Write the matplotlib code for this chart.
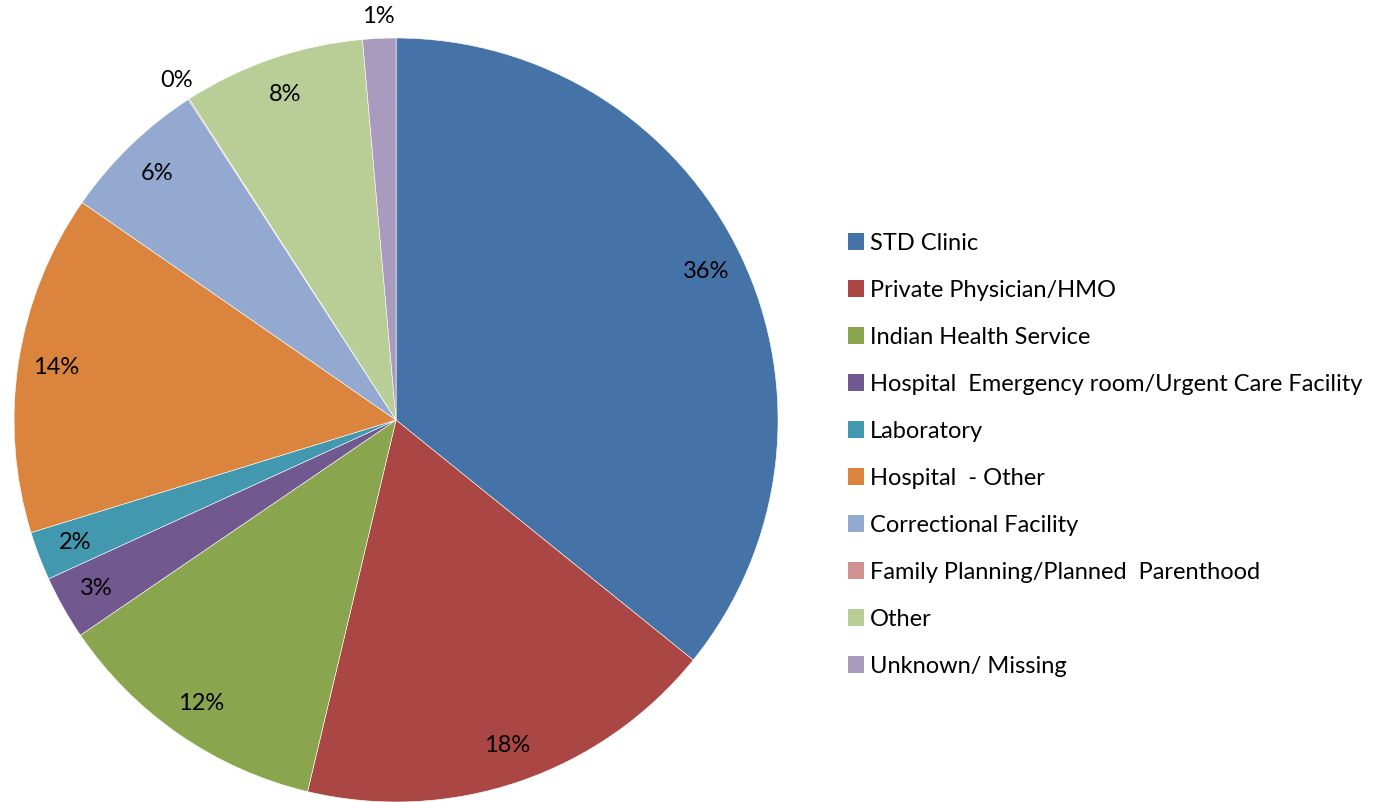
import numpy as np
import matplotlib

matplotlib.use("Agg")
import matplotlib.pyplot as plt
from matplotlib.patches import Patch

# categories and shares (%)
categories = [
    "STD Clinic",
    "Private Physician/HMO",
    "Indian Health Service",
    "Hospital  Emergency room/Urgent Care Facility",
    "Laboratory",
    "Hospital  - Other",
    "Correctional Facility",
    "Family Planning/Planned  Parenthood",
    "Other",
    "Unknown/ Missing",
]
shares = [35.8, 17.9, 11.75, 2.7, 2.06, 14.4, 6.2, 0.05, 7.7, 1.4]
colors = ["#4572A7", "#AA4643", "#89A54E", "#71588F", "#4198AF",
          "#DB843D", "#93A9CF", "#D19392", "#B9CD96", "#A99BBD"]

FONT = "Lato"
FS = 17

fig = plt.figure(figsize=(13.73, 8.02), dpi=100)
ax = fig.add_axes([0.0102, 0.0, 0.5565, 0.9526])

wedges, texts, autotexts = ax.pie(
    shares, colors=colors, startangle=90, counterclock=False,
    autopct=lambda p: f"{p:.0f}%", pctdistance=0.9,
    wedgeprops=dict(edgecolor="white", linewidth=0.4),
    textprops=dict(fontsize=FS, family=FONT, color="black"),
)

# tiny slices get their label just outside the rim
for w, t, v in zip(wedges, autotexts, shares):
    if v < 2:
        ang = np.deg2rad((w.theta1 + w.theta2) / 2)
        t.set_position((1.058 * np.cos(ang), 1.058 * np.sin(ang)))

ax.set_xlim(-1, 1)
ax.set_ylim(-1, 1)
ax.set_aspect("equal")
ax.axis("off")

handles = [Patch(facecolor=c, edgecolor="none") for c in colors]
fig.legend(handles, categories, loc="center left",
           bbox_to_anchor=(0.602, 0.433), frameon=False,
           prop=dict(family=FONT, size=FS),
           handlelength=0.7, handleheight=0.7, handletextpad=0.25,
           labelspacing=1.1)

fig.savefig("out.png", dpi=100)
